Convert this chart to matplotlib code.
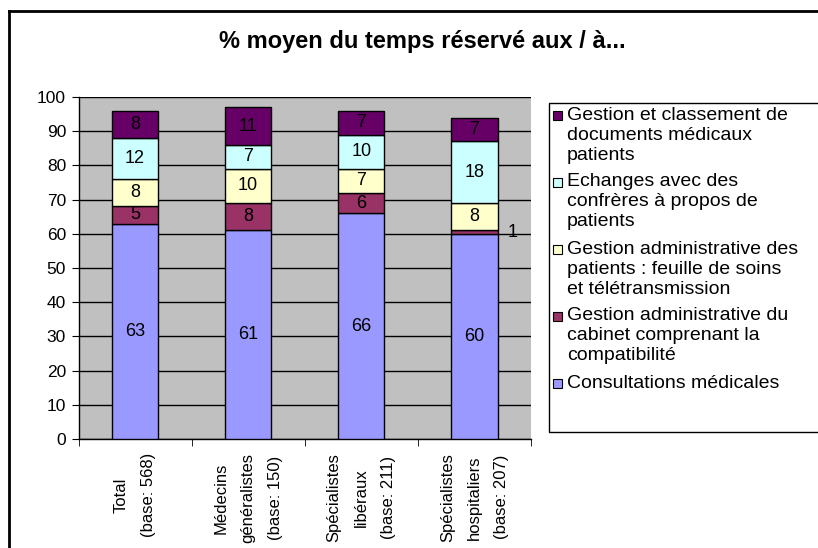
import numpy as np
import matplotlib.pyplot as plt
from matplotlib.patches import Rectangle
from matplotlib.lines import Line2D

plt.rcParams['font.family'] = ['Liberation Sans', 'DejaVu Sans']

# data
categories = ["Total\n(base: 568)", "Médecins\ngénéralistes\n(base: 150)",
              "Spécialistes\nlibéraux\n(base: 211)", "Spécialistes\nhospitaliers\n(base: 207)"]
consultations = [63, 61, 66, 60]
cabinet = [5, 8, 6, 1]
admin_patients = [8, 10, 7, 8]
echanges = [12, 7, 10, 18]
classement = [8, 11, 7, 7]

series = [consultations, cabinet, admin_patients, echanges, classement]
labels = ["Consultations médicales",
          "Gestion administrative du\ncabinet comprenant la\ncompatibilité",
          "Gestion administrative des\npatients : feuille de soins\net télétransmission",
          "Echanges avec des\nconfrères à propos de\npatients",
          "Gestion et classement de\ndocuments médicaux\npatients"]
colors = ["#9999FF", "#993366", "#FFFFCC", "#CCFFFF", "#660066"]

W, H = 818, 548
fig = plt.figure(figsize=(W / 100, H / 100), dpi=100)
ax = fig.add_axes([0.096, 0.199, 0.553, 0.624])
ax.set_facecolor("#C0C0C0")

x = np.arange(len(categories))
bottom = np.zeros(len(categories))
for vals, col in zip(series, colors):
    vals = np.array(vals, dtype=float)
    ax.bar(x, vals, width=0.41, bottom=bottom, color=col, edgecolor="black",
           linewidth=1, zorder=3)
    for i, v in enumerate(vals):
        if v >= 3:
            ax.text(x[i], bottom[i] + v / 2, f"{int(v)}", ha="center", va="center",
                    fontsize=13, zorder=4)
        else:
            # too small: label beside the bar
            ax.text(x[i] + 0.34, bottom[i] + v / 2, f"{int(v)}", ha="center",
                    va="center", fontsize=13, zorder=4)
    bottom += vals

ax.set_ylim(0, 100)
ax.set_xlim(-0.5, len(categories) - 0.5)
ax.set_yticks(np.arange(0, 101, 10))
ax.tick_params(axis="y", labelsize=12.5, length=5, direction="out", pad=4)
ax.yaxis.grid(True, color="black", linewidth=1, zorder=0)
ax.set_axisbelow(True)

ax.set_xticks(x)
ax.set_xticklabels(categories, rotation=90, fontsize=12, ha="center", va="top",
                   multialignment="center", linespacing=2.0)
ax.tick_params(axis="x", length=0, pad=10)
ax.set_xticks(np.arange(-0.5, len(categories)), minor=True)
ax.tick_params(axis="x", which="minor", length=5, direction="out")

for s in ["top", "right"]:
    ax.spines[s].set_visible(False)
for s in ["left", "bottom"]:
    ax.spines[s].set_color("black")
    ax.spines[s].set_linewidth(1)

fig.text(422 / W, 1 - 48 / H, "% moyen du temps réservé aux / à...", ha="center",
         va="baseline", fontsize=17, fontweight="bold")

# legend box (runs past the right edge, as in the source)
fig.patches.append(Rectangle((549 / W, 1 - 432 / H), 0.4, (432 - 103) / H,
                             transform=fig.transFigure, facecolor="white",
                             edgecolor="black", linewidth=1))
line_h = 20
entry_gap = 7
y = 115
for lab, col in zip(labels[::-1], colors[::-1]):
    fig.patches.append(Rectangle((553 / W, 1 - (y + 4.5) / H), 9 / W, 9 / H,
                                 transform=fig.transFigure, facecolor=col,
                                 edgecolor="black", linewidth=0.8))
    for k, line in enumerate(lab.split("\n")):
        fig.text(567 / W, 1 - (y + k * line_h) / H, line, ha="left", va="center",
                 fontsize=14)
    y += 3 * line_h + entry_gap

# outer frame: only top and left edges fall inside the picture
fig.add_artist(Line2D([9 / W, 1.0], [1 - 11 / H, 1 - 11 / H], transform=fig.transFigure,
                      color="black", linewidth=2))
fig.add_artist(Line2D([9 / W, 9 / W], [0, 1 - 11 / H], transform=fig.transFigure,
                      color="black", linewidth=2))

fig.savefig("out.png", dpi=100)
